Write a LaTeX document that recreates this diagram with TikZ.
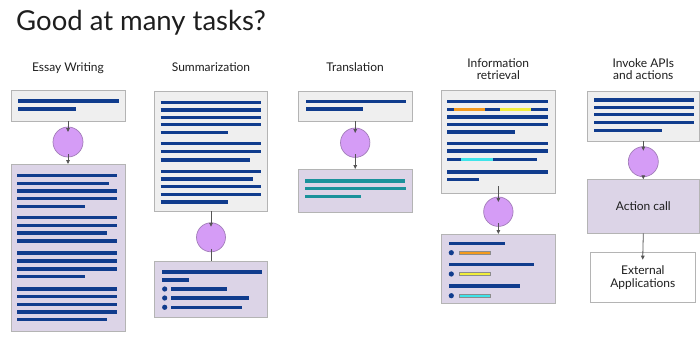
\documentclass[tikz,border=0pt]{standalone}
\usepackage{fontspec}
\setmainfont{Lato}
\usetikzlibrary{arrows.meta}
\definecolor{ingray}{HTML}{EFEFEF}
\definecolor{boxgray}{HTML}{B4B4B4}
\definecolor{lav}{HTML}{DCD4E7}
\definecolor{violetfill}{HTML}{D59CF6}
\definecolor{violetedge}{HTML}{A27DB9}
\definecolor{barblue}{HTML}{103C8D}
\definecolor{tealbar}{HTML}{1A929B}
\definecolor{orangebar}{HTML}{F39A1E}
\definecolor{yellowbar}{HTML}{F1EE3C}
\definecolor{cyanbar}{HTML}{3FE4EA}
\definecolor{arrowgray}{HTML}{555555}
\definecolor{txt}{HTML}{1E1E1E}
\tikzset{
  panel/.style={draw=boxgray, line width=0.8pt, inner sep=0pt, outer sep=0pt, rectangle},
  inbox/.style={panel, fill=ingray},
  outbox/.style={panel, fill=lav},
  whitebox/.style={panel, fill=white},
  llm/.style={circle, draw=violetedge, fill=violetfill, line width=0.7pt, inner sep=0pt, outer sep=0pt},
  conn/.style={draw=arrowgray, line width=0.8pt},
  connarrow/.style={conn, -{Triangle[length=4pt,width=3.6pt]}},
  textbar/.style={line width=3.4pt, color=barblue},
  tealline/.style={line width=3.4pt, color=tealbar},
  hl/.style={line width=3.0pt},
  hlbox/.style={draw=black!45, line width=0.4pt},
  bullet/.style={fill=barblue, draw=none},
  label/.style={font=\fontsize{12}{12.5}\selectfont, text=txt, align=center},
}
\begin{document}
\begin{tikzpicture}[x=1pt,y=-1pt]
\useasboundingbox (0,0) rectangle (700,341);
\fill[white] (0,0) rectangle (700,341);

% title
\node[anchor=base west, font=\fontsize{27.5}{30}\selectfont, text=txt, inner sep=0pt] (title) at (16,30) {Good at many tasks?};

% column labels
\node[label, anchor=base] (l1) at (68,71) {Essay Writing};
\node[label, anchor=base] (l2) at (211,71) {Summarization};
\node[label, anchor=base] (l3) at (355,71) {Translation};
\node[label, anchor=base] (l4) at (498.3,79.5) {Information\\retrieval};
\node[label, anchor=base] (l5) at (643.3,79.5) {Invoke APIs\\and actions};

%%%%% Essay writing
\node[inbox, minimum width=114pt, minimum height=31pt] (ein) at (68,105.5) {};
\node[llm, minimum size=30pt] (ec) at (68,142) {};
\node[outbox, minimum width=114pt, minimum height=167pt] (eout) at (68,247.5) {};
\draw[textbar] (18,101) -- (119,101);
\draw[textbar] (18,109) -- (76,109);
\foreach \y/\e in {175.7/117,183.3/109,191/117,198.7/117,206.3/85,217.3/117,225.3/117,233/107,241/117,253/117,261/117,269/117,276.7/85,289/117,296.7/117,304.3/117,312/117,319.7/107}
  \draw[textbar] (17,\y) -- (\e,\y);
\draw[connarrow, shorten >=-5pt] (ein.south) -- (ec.north);
\draw[connarrow, shorten <=-3pt] (ec.south) -- (eout.north);

%%%%% Summarization
\node[inbox, minimum width=113.4pt, minimum height=119.3pt] (sin) at (211,151.35) {};
\node[llm, minimum size=29pt] (sc) at (211,237.3) {};
\node[outbox, minimum width=113pt, minimum height=56.7pt] (sout) at (211,289.35) {};
\foreach \y/\e in {102.3/260.7,110/260.7,117.3/260.7,124.7/260.7,132.3/228.3,143.7/260.7,151.3/260.7,160/249.7,171.3/260.7,179/252.7,186.7/260.7,194.3/260.7,202/228.3}
  \draw[textbar] (160.7,\y) -- (\e,\y);
\draw[textbar] (162,272) -- (262.3,272);
\draw[textbar] (162,280) -- (189.3,280);
\foreach \y/\e in {289/227.3,298/249.3,307.3/241.7}{
  \fill[bullet] (164.7,\y) circle (2.6pt);
  \draw[textbar] (171,\y) -- (\e,\y);
}
\draw[connarrow, shorten >=-4pt] (sin.south) -- (sc.north);
\draw[conn, shorten <=-3pt] (sc.south) -- (sout.north);

%%%%% Translation
\node[inbox, minimum width=113.7pt, minimum height=30pt] (tin) at (355.2,106) {};
\node[llm, minimum size=29.4pt] (tc) at (355.2,142.7) {};
\node[outbox, minimum width=113.7pt, minimum height=43.3pt] (tout) at (355.2,190.65) {};
\draw[textbar] (306.3,101.3) -- (406.3,101.3);
\draw[textbar] (306.3,109) -- (362.7,109);
\draw[tealline] (305,181) -- (405,181);
\draw[tealline] (305,188.7) -- (405.7,188.7);
\draw[tealline] (305,196.7) -- (361.3,196.7);
\draw[connarrow, shorten >=-5pt] (tin.south) -- (tc.north);
\draw[connarrow, shorten <=-3pt] (tc.south) -- (tout.north);

%%%%% Information retrieval
\node[inbox, minimum width=113.3pt, minimum height=102.6pt] (iin) at (498.35,142) {};
\node[llm, minimum size=29.4pt] (ic) at (498.35,211.7) {};
\node[outbox, minimum width=113.3pt, minimum height=69.3pt] (iout) at (498.35,268.65) {};
\foreach \y/\e in {101.7/547.7,109.3/547.7,117/547.7,124.3/547.7,132/515.3,143.3/547.7,151/547.7,159.3/536.7,172/547.7,179.7/479}
  \draw[textbar] (447,\y) -- (\e,\y);
\draw[hl, orangebar] (454,109.3) -- (485,109.3);
\draw[hl, yellowbar] (499.7,109.3) -- (531,109.3);
\draw[hl, cyanbar] (461,159.3) -- (492.7,159.3);
\draw[textbar] (449,243.3) -- (505,243.3);
\draw[textbar] (449,264.7) -- (534.3,264.7);
\draw[textbar] (449,286) -- (520,286);
\foreach \y/\c in {252.7/orangebar,274/yellowbar,295.7/cyanbar}{
  \fill[bullet] (451.3,\y) circle (2.6pt);
  \filldraw[fill=\c, hlbox] (459.3,\y-1.6) rectangle (490.3,\y+1.6);
}
\draw[connarrow, shorten <=-7pt, shorten >=-5pt] (iin.south) -- (ic.north);
\draw[connarrow, shorten <=-3pt] (ic.south) -- (iout.north);

%%%%% Invoke APIs
\node[inbox, minimum width=112pt, minimum height=49.3pt] (ain) at (643.3,116.35) {};
\node[llm, minimum size=30pt] (ac) at (643.3,161.7) {};
\node[outbox, minimum width=112pt, minimum height=54pt, font=\fontsize{12}{13.5}\selectfont, text=txt] (act) at (643.3,206.3) {Action call};
\node[whitebox, minimum width=105.7pt, minimum height=49.6pt, font=\fontsize{12}{13.5}\selectfont, text=txt, align=center] (ext) at (642.85,277.5) {External\\Applications};
\foreach \y/\e in {100/694,107.3/694,114.7/694,122.3/694,130.3/662.3}
  \draw[textbar] (594,\y) -- (\e,\y);
\draw[connarrow, shorten >=-4pt] (ain.south) -- (ac.north);
\draw[connarrow] (ac.south) -- (act.north);
\draw[connarrow, shorten >=-7pt] (act.south) -- (ext.north);
\end{tikzpicture}
\end{document}
